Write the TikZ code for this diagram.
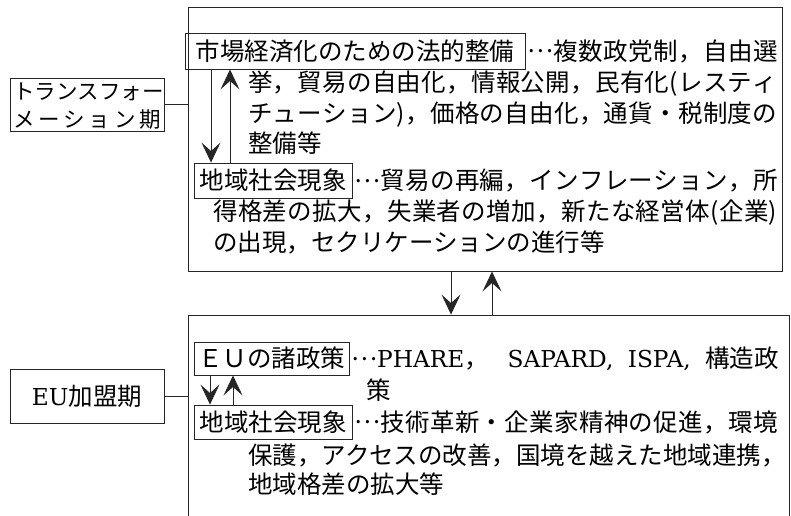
\documentclass[tikz,border=0pt]{standalone}
\usepackage{fontspec}
\newfontfamily\jp{Noto Sans CJK JP}
\newfontfamily\lat{DejaVu Serif}[Scale=0.95]
\usetikzlibrary{arrows.meta}
\newcommand\jpfont{\jp\fontsize{24.5}{30}\selectfont}
\newcommand\jstrut{\rule[-2.9pt]{0pt}{24.5pt}}
\newcommand\jell{\makebox[1em][c]{\raisebox{0.3em}{…}}}
% spread the characters of a line over a given width
\def\spr#1{\ifx\relax#1\else#1\hskip0pt plus 1fil\relax\expandafter\spr\fi}
\newcommand\jline[2]{\makebox[#1][s]{\spr#2\relax\unskip}}
\begin{document}
\begin{tikzpicture}[x=1pt,y=-1pt,
  frame/.style={draw=black!85, line width=0.9pt},
  box/.style={frame, inner sep=0pt, font=\jpfont, text height=21.5pt, text depth=2.9pt},
  txt/.style={anchor=west, inner sep=0pt, font=\jpfont, text height=21.5pt, text depth=2.9pt},
  arr/.style={frame, -{Stealth[length=20pt,width=19pt,inset=8.5pt]}}]
\useasboundingbox (0,0) rectangle (791,515);

% big frames
\node[frame, minimum width=594pt, minimum height=264pt, inner sep=0pt] (top) at (485,139) {};
\node[frame, minimum width=601pt, minimum height=260pt, inner sep=0pt] (bot) at (488.5,445) {};

% period labels
\node[frame, minimum width=154pt, minimum height=53pt, inner sep=0pt, align=left,
      font=\jp\fontsize{21.5}{28}\selectfont] (trans) at (87,104.5)
  {\jstrut\makebox[148pt][s]{ト\hfil ラ\hfil ン\hfil ス\hfil フ\hfil ォ\hfil ー}\\
   \jstrut\makebox[148pt][s]{メ\hfil ー\hfil シ\hfil ョ\hfil ン\hfil 期}};
\node[box, minimum width=154pt, minimum height=54pt] (eu) at (87,396) {{\lat EU}加盟期};

\draw[frame] (trans.east) -- (trans.east -| top.west);
\draw[frame] (eu.east) -- (eu.east -| bot.west);

% top content
\node[box, minimum width=340pt, minimum height=36pt] (b1) at (355,51) {市場経済化のための法的整備};
\node[box, minimum width=158pt, minimum height=35pt] (b2) at (273,180.5) {地域社会現象};
\node[txt, xshift=3pt] (t1) at (b1.east) {\jline{249pt}{\jell 複数政党制，自由選}};
\node[txt] (t2) at (248,82) {\jline{529pt}{挙，貿易の自由化，情報公開，民有化(レスティ}};
\node[txt] (t3) at (248,113) {\jline{529pt}{チューション)，価格の自由化，通貨・税制度の}};
\node[txt] (t4) at (248,143) {整備等};
\node[txt, xshift=3pt] (t5) at (b2.east) {\jline{422pt}{\jell 貿易の再編，インフレーション，所}};
\node[txt] (t6) at (213,211) {\jline{564pt}{得格差の拡大，失業者の増加，新たな経営体(企業)}};
\node[txt] (t7) at (213,242) {の出現，セクリケーションの進行等};

% bottom content
\node[box, minimum width=155pt, minimum height=33pt] (b3) at (271.5,358.5) {ＥＵの諸政策};
\node[box, minimum width=158pt, minimum height=34pt] (b4) at (273,422) {地域社会現象};
\node[txt, xshift=3pt] (m1) at (b3.east)
  {\makebox[426pt][s]{\jell{\lat PHARE}，\hskip 6pt plus 1.5fil{\lat SAPARD,}\hskip 6pt plus 1fil{\lat ISPA,}\hskip 6pt plus 1fil 構造政}};
\node[txt] (m2) at (366,390) {策};
\node[txt, xshift=3pt] (m3) at (b4.east) {\jline{422pt}{\jell 技術革新・企業家精神の促進，環境}};
\node[txt] (m4) at (248,455) {保護，アクセスの改善，国境を越えた地域連携，};
\node[txt] (m5) at (248,484) {地域格差の拡大等};

% arrow columns
\coordinate (xa) at (211,0);
\coordinate (xb) at (230,0);
\coordinate (xc) at (210,0);
\coordinate (xd) at (233,0);
\coordinate (xe) at (451,0);
\coordinate (xf) at (492,0);

\draw[arr] (b1.south -| xa) -- (b2.north -| xa);
\draw[arr] (b2.north -| xb) -- (b1.south -| xb);
\draw[arr] (b3.south -| xc) -- (b4.north -| xc);
\draw[arr] (b4.north -| xd) -- (b3.south -| xd);
\draw[arr] (top.south -| xe) -- (bot.north -| xe);
\draw[arr] (bot.north -| xf) -- (top.south -| xf);
\end{tikzpicture}
\end{document}
